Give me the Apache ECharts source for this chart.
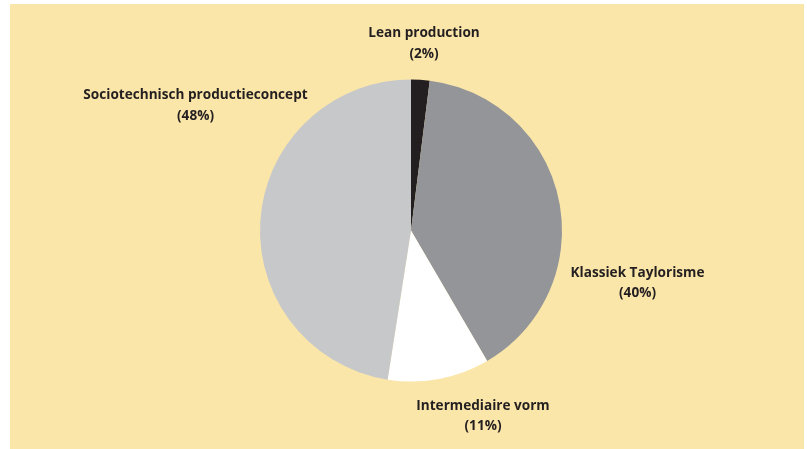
<!DOCTYPE html>
<html>
<head>
<meta charset="utf-8">
<script src="https://cdn.jsdelivr.net/npm/echarts@6/dist/echarts.min.js"></script>
<style>
  html, body { margin: 0; padding: 0; background: #fff; }
  .myChartBox { position: absolute; left: 10px; top: 4px; width: 794px; height: 445px; background: #fbe6a9; }
  #main { width: 100%; height: 100%; }
</style>
</head>
<body>
<div class="myChartBox"><div id="main"></div></div>
<script>
// categories and values (percent)
var categories = ['Lean production', 'Klassiek Taylorisme', 'Intermediaire vorm', 'Sociotechnisch productieconcept'];
var values = [2, 40, 11, 48];
var colors = ['#231f20', '#939598', '#ffffff', '#c7c8ca'];

// where each label sits inside the chart box
var labelPos = [
  { x: 414, y: 39.5 },
  { x: 627.5, y: 279 },
  { x: 473, y: 412 },
  { x: 185.5, y: 101.5 }
];

var myChart = echarts.init(document.getElementById('main'));

var pieData = [];
for (var i = 0; i < categories.length; i++) {
  pieData.push({ name: categories[i], value: values[i], itemStyle: { color: colors[i] } });
}

var option = {
  animation: false,
  series: [{
    type: 'pie',
    center: [401, 226.5],
    radius: 151,
    startAngle: 90,
    clockwise: true,
    data: pieData,
    label: {
      show: true,
      position: 'outside',
      formatter: function (p) { return p.name + '\n(' + p.value + '%)'; },
      fontFamily: 'Open Sans',
      fontWeight: 'bold',
      fontSize: 13.6,
      lineHeight: 20.5,
      color: '#231f20',
      align: 'center',
      overflow: 'none'
    },
    labelLine: { show: false },
    labelLayout: function (params) {
      var p = labelPos[params.dataIndex];
      return { x: p.x, y: p.y, align: 'center', verticalAlign: 'middle' };
    },
    emphasis: { disabled: true }
  }]
};
myChart.setOption(option);
</script>
</body>
</html>
